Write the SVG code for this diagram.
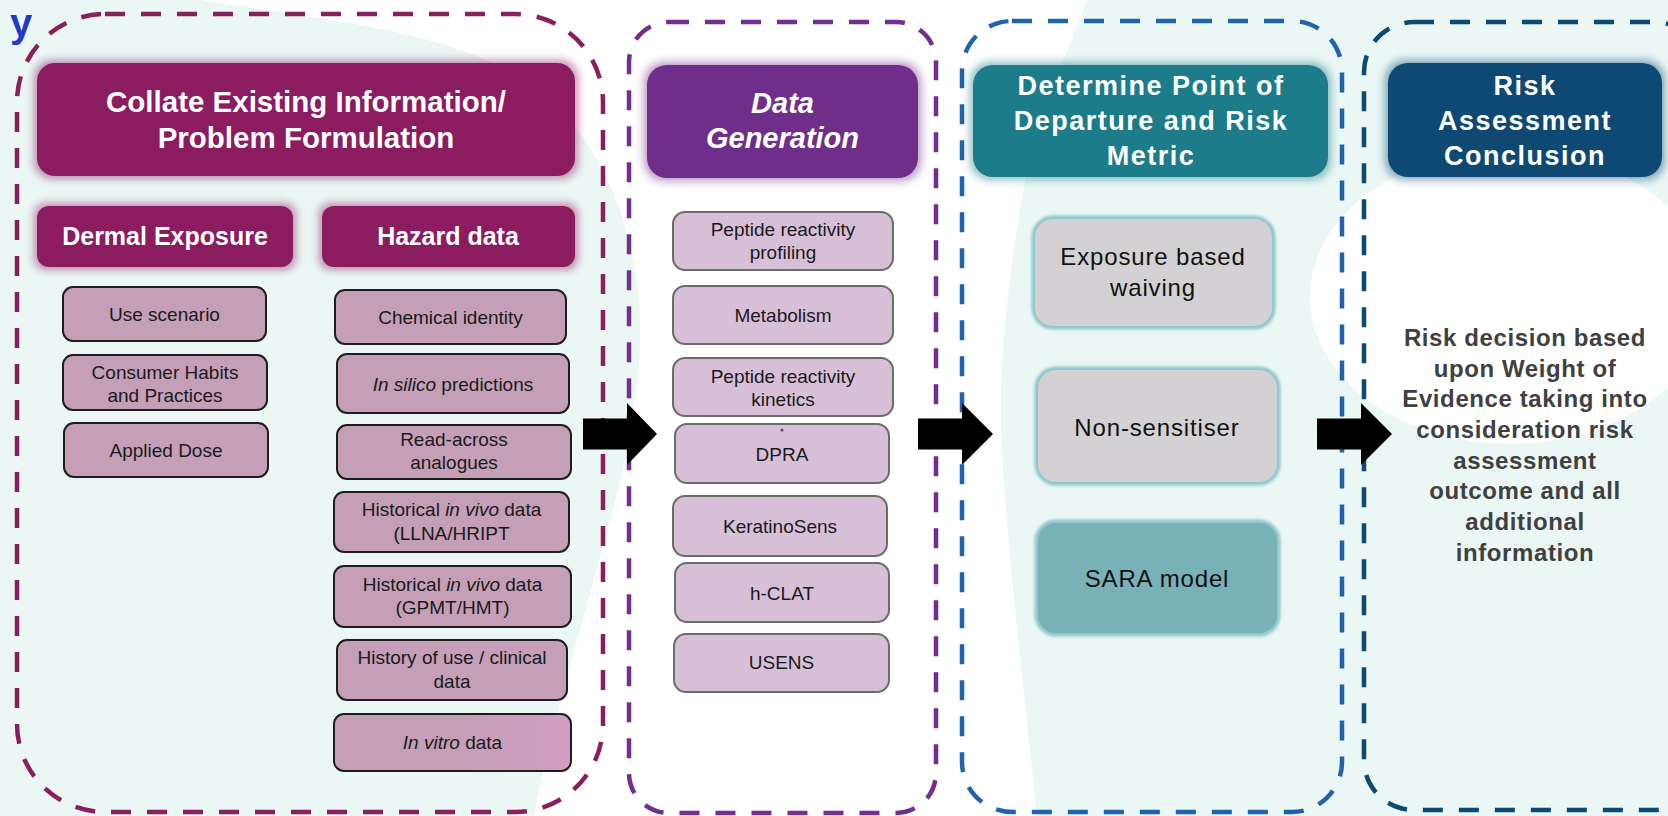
<svg xmlns="http://www.w3.org/2000/svg" width="1668" height="816" viewBox="0 0 1668 816">
<defs>
<style>
.dash{fill:none;stroke-width:4.5;stroke-dasharray:20 16}
.hdr{font-family:"Liberation Sans",Arial,sans-serif;font-weight:bold;fill:#ffffff;text-anchor:middle}
.sm{font-family:"Liberation Sans",Arial,sans-serif;font-size:19px;fill:#1a1a1a;text-anchor:middle}
.bl{font-family:"Liberation Sans",Arial,sans-serif;font-size:24px;letter-spacing:0.85px;fill:#111111;text-anchor:middle}
.lb{fill:#c59fb8;stroke:#1e1e1e;stroke-width:2}
.dg{fill:#d8bfd8;stroke:#6b6b6b;stroke-width:2}
.halo{fill:none;stroke:#8fc6ca;stroke-width:7;filter:url(#soft)}
.arrow{fill:#000000}
</style>
<filter id="glow" x="-20%" y="-40%" width="140%" height="180%">
<feMorphology in="SourceGraphic" operator="dilate" radius="2.5" result="d"/>
<feGaussianBlur in="d" stdDeviation="4" result="b"/>
<feComponentTransfer in="b" result="f"><feFuncA type="linear" slope="0.5"/></feComponentTransfer>
<feMerge><feMergeNode in="f"/><feMergeNode in="SourceGraphic"/></feMerge>
</filter>
<filter id="soft" x="-10%" y="-20%" width="120%" height="140%">
<feGaussianBlur stdDeviation="1.8"/>
</filter>
<linearGradient id="vitro" x1="0" y1="0" x2="1" y2="0">
<stop offset="0.55" stop-color="#c59fb8"/>
<stop offset="1" stop-color="#d29dc3"/>
</linearGradient>
</defs>

<g id="background">
<rect x="0" y="0" width="1668" height="816" fill="#ebf7f5"/>
<path d="M200,0 L1087,0 C1060,70 1030,140 1020,210 C1005,300 998,380 1002,450 C1008,560 1025,700 1037,816 L534,816 C545,760 560,700 580,630 C610,520 640,430 640,330 C640,230 600,140 540,90 C460,30 320,20 200,0 Z" fill="#ffffff"/>
<ellipse cx="1510" cy="297" rx="200" ry="147" fill="#ffffff"/>
<text x="10" y="37" font-family="Liberation Sans,Arial,sans-serif" font-weight="bold" font-size="40" fill="#1f3cc8">y</text>
</g>

<g id="containers">
<rect id="c-collate" class="dash" x="17" y="14" width="586" height="798" rx="88" stroke="#8b1f5e"/>
<rect id="c-datagen" class="dash" x="629" y="22" width="307" height="791" rx="40" stroke="#722f8e"/>
<rect id="c-determine" class="dash" x="962" y="21" width="380" height="791" rx="50" stroke="#1f63ae"/>
<rect id="c-risk" class="dash" x="1364" y="22" width="340" height="788" rx="50" stroke="#0b4a72"/>
</g>

<g id="collate-header">
<rect x="37" y="63" width="538" height="113" rx="18" fill="#8b1f5e" filter="url(#glow)"/>
<text class="hdr" font-size="29.5" x="306" y="112">Collate Existing Information/</text>
<text class="hdr" font-size="29.5" x="306" y="148">Problem Formulation</text>
</g>

<g id="dermal-exposure">
<rect x="37" y="206" width="256" height="61" rx="12" fill="#8b1f5e" filter="url(#glow)"/>
<text class="hdr" font-size="25" x="165" y="245">Dermal Exposure</text>
</g>

<g id="hazard-data">
<rect x="322" y="206" width="253" height="61" rx="12" fill="#8b1f5e" filter="url(#glow)"/>
<text class="hdr" font-size="25" x="448" y="245">Hazard data</text>
</g>

<g id="use-scenario">
<rect class="lb" x="63" y="287" width="203" height="54" rx="10"/>
<text class="sm" x="164.5" y="321">Use scenario</text>
</g>
<g id="consumer-habits">
<rect class="lb" x="63" y="355" width="204" height="55" rx="10"/>
<text class="sm" x="165" y="379">Consumer Habits</text>
<text class="sm" x="165" y="402">and Practices</text>
</g>
<g id="applied-dose">
<rect class="lb" x="64" y="423" width="204" height="54" rx="10"/>
<text class="sm" x="166" y="457">Applied Dose</text>
</g>

<g id="chemical-identity">
<rect class="lb" x="335" y="290" width="231" height="54" rx="10"/>
<text class="sm" x="450.5" y="324">Chemical identity</text>
</g>
<g id="in-silico">
<rect class="lb" x="337" y="354" width="232" height="59" rx="10"/>
<text class="sm" x="453" y="390.5"><tspan font-style="italic">In silico</tspan> predictions</text>
</g>
<g id="read-across">
<rect class="lb" x="337" y="425" width="234" height="54" rx="10"/>
<text class="sm" x="454" y="446">Read-across</text>
<text class="sm" x="454" y="469">analogues</text>
</g>
<g id="historical-llna">
<rect class="lb" x="334" y="492" width="235" height="60" rx="10"/>
<text class="sm" x="451.5" y="516">Historical <tspan font-style="italic">in vivo</tspan> data</text>
<text class="sm" x="451.5" y="540">(LLNA/HRIPT</text>
</g>
<g id="historical-gpmt">
<rect class="lb" x="334" y="566" width="237" height="61" rx="10"/>
<text class="sm" x="452.5" y="591">Historical <tspan font-style="italic">in vivo</tspan> data</text>
<text class="sm" x="452.5" y="614">(GPMT/HMT)</text>
</g>
<g id="history-of-use">
<rect class="lb" x="337" y="640" width="230" height="60" rx="10"/>
<text class="sm" x="452" y="664">History of use / clinical</text>
<text class="sm" x="452" y="688">data</text>
</g>
<g id="in-vitro">
<rect x="334" y="714" width="237" height="57" rx="10" fill="url(#vitro)" stroke="#1e1e1e" stroke-width="2"/>
<text class="sm" x="452.5" y="749"><tspan font-style="italic">In vitro</tspan> data</text>
</g>

<g id="datagen-header">
<rect x="647" y="65" width="271" height="113" rx="20" fill="#6f2d8b" filter="url(#glow)"/>
<text class="hdr" font-size="29" font-style="italic" x="782.5" y="113">Data</text>
<text class="hdr" font-size="29" font-style="italic" x="782.5" y="148">Generation</text>
</g>

<g id="peptide-profiling">
<rect class="dg" x="673" y="212" width="220" height="58" rx="12"/>
<text class="sm" x="783" y="236">Peptide reactivity</text>
<text class="sm" x="783" y="259">profiling</text>
</g>
<g id="metabolism">
<rect class="dg" x="673" y="286" width="220" height="58" rx="12"/>
<text class="sm" x="783" y="322">Metabolism</text>
</g>
<g id="peptide-kinetics">
<rect class="dg" x="673" y="358" width="220" height="58" rx="12"/>
<text class="sm" x="783" y="383">Peptide reactivity</text>
<text class="sm" x="783" y="406">kinetics</text>
</g>
<g id="dpra">
<rect class="dg" x="675" y="424" width="214" height="59" rx="12"/>
<circle cx="782" cy="430" r="1.6" fill="#555555"/>
<text class="sm" x="782" y="461">DPRA</text>
</g>
<g id="keratinosens">
<rect class="dg" x="673" y="496" width="214" height="60" rx="12"/>
<text class="sm" x="780" y="533">KeratinoSens</text>
</g>
<g id="h-clat">
<rect class="dg" x="675" y="563" width="214" height="59" rx="12"/>
<text class="sm" x="782" y="599.5">h-CLAT</text>
</g>
<g id="usens">
<rect class="dg" x="674" y="634" width="215" height="58" rx="12"/>
<text class="sm" x="781.5" y="669">USENS</text>
</g>

<g id="determine-header">
<rect x="973" y="65" width="355" height="112" rx="20" fill="#1f7b89" filter="url(#glow)"/>
<text class="hdr" font-size="27" letter-spacing="1.5" x="1151" y="95">Determine Point of</text>
<text class="hdr" font-size="27" letter-spacing="1.5" x="1151" y="130">Departure and Risk</text>
<text class="hdr" font-size="27" letter-spacing="1.5" x="1151" y="165">Metric</text>
</g>

<g id="exposure-waiving">
<rect class="halo" x="1035" y="219" width="237" height="107" rx="18"/>
<rect x="1035" y="219" width="237" height="107" rx="18" fill="#d3d1d3"/>
<text class="bl" x="1153" y="265">Exposure based</text>
<text class="bl" x="1153" y="296">waiving</text>
</g>
<g id="non-sensitiser">
<rect class="halo" x="1038" y="370" width="239" height="112" rx="18"/>
<rect x="1038" y="370" width="239" height="112" rx="18" fill="#d3d1d3"/>
<text class="bl" x="1157" y="436">Non-sensitiser</text>
</g>
<g id="sara-model">
<rect class="halo" x="1038" y="523" width="239" height="110" rx="18" stroke="#a3d1d4"/>
<rect x="1038" y="523" width="239" height="110" rx="18" fill="#78b1b7"/>
<text class="bl" x="1157" y="587">SARA model</text>
</g>

<g id="risk-header">
<rect x="1388" y="63" width="274" height="114" rx="20" fill="#0b4a73" filter="url(#glow)"/>
<text class="hdr" font-size="27" letter-spacing="1.5" x="1525" y="95">Risk</text>
<text class="hdr" font-size="27" letter-spacing="1.5" x="1525" y="130">Assessment</text>
<text class="hdr" font-size="27" letter-spacing="1.5" x="1525" y="165">Conclusion</text>
</g>

<g id="risk-decision" font-family="Liberation Sans,Arial,sans-serif" font-weight="bold" font-size="24" letter-spacing="0.6" fill="#404040" text-anchor="middle">
<text x="1525" y="346">Risk decision based</text>
<text x="1525" y="377">upon Weight of</text>
<text x="1525" y="407">Evidence taking into</text>
<text x="1525" y="438">consideration risk</text>
<text x="1525" y="469">assessment</text>
<text x="1525" y="499">outcome and all</text>
<text x="1525" y="530">additional</text>
<text x="1525" y="561">information</text>
</g>

<g id="connectors">
<polygon class="arrow" points="583,418.5 627,418.5 627,403 657,434 627,465 627,449.5 583,449.5"/>
<polygon class="arrow" points="918,418.5 962,418.5 962,403 993,434 962,465 962,449.5 918,449.5"/>
<polygon class="arrow" points="1317,418.5 1361,418.5 1361,403 1392,434 1361,465 1361,449.5 1317,449.5"/>
</g>
</svg>
